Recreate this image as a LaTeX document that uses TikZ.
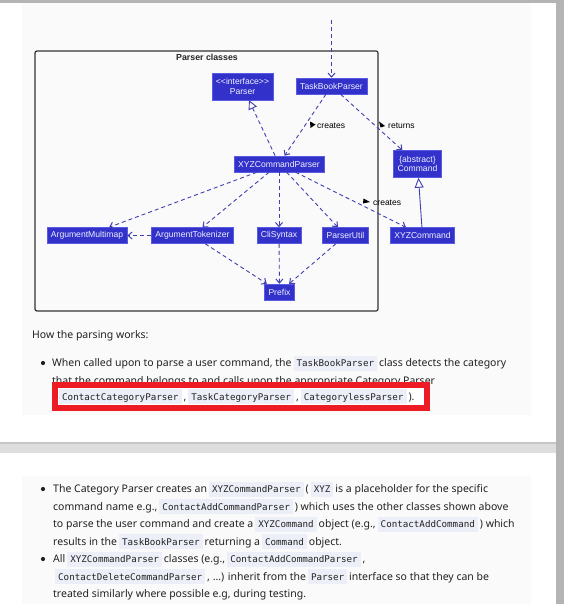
\documentclass[tikz,border=0pt]{standalone}
\usepackage{fontspec}
\usepackage{xcolor}
\definecolor{umlblue}{HTML}{3232CA}
\definecolor{umledge}{HTML}{5A5AE2}
\definecolor{umltext}{HTML}{F0F0FF}
\definecolor{arrowblue}{HTML}{4040B0}
\definecolor{pagegray}{HTML}{B4B4B4}
\definecolor{bandgray}{HTML}{DDDDDD}
\definecolor{bandedge}{HTML}{C6C6C6}
\definecolor{panelbg}{HTML}{FAFAFA}
\definecolor{codebg}{HTML}{EDEFF8}
\definecolor{markred}{HTML}{ED1C24}
\definecolor{bodytext}{HTML}{222222}
\setmainfont{Noto Sans}
\newfontfamily\umlfont{Liberation Sans}
\newfontfamily\codefont{DejaVu Sans Mono}
\usepackage{tikz}
\usetikzlibrary{arrows.meta}

% inline code chip
\newcommand{\code}[1]{\hspace{2pt}{\setlength{\fboxsep}{0pt}\colorbox{codebg}{\rule[-4pt]{0pt}{15pt}\hspace{3pt}{\codefont\fontsize{9.2}{11}\selectfont #1}\hspace{3pt}}}\hspace{2pt}}

\begin{document}
\begin{tikzpicture}[x=1pt, y=-1pt,
    umlclass/.style={fill=umlblue, draw=umledge, line width=0.5pt, text=umltext,
      font=\umlfont\fontsize{8.6}{9.5}\selectfont, inner xsep=4pt, inner ysep=2pt,
      minimum height=16pt, align=center},
    twoline/.style={minimum height=27pt},
    dep/.style={draw=arrowblue, line width=0.9pt, dash pattern=on 4pt off 3pt,
      -{Straight Barb[length=4pt,width=7pt,line width=1pt]}},
    realize/.style={draw=arrowblue, line width=0.9pt, dash pattern=on 4pt off 3pt,
      -{Triangle[open,length=9pt,width=9pt]}},
    inherit/.style={draw=arrowblue, line width=0.9pt, -{Triangle[open,length=10pt,width=9pt]}},
    umllabel/.style={font=\umlfont\fontsize{8.5}{9.5}\selectfont, anchor=west, inner sep=0pt},
    bodyline/.style={anchor=base west, inner sep=0pt, text=bodytext, font=\fontsize{10.5}{12}\selectfont},
    bulletdot/.style={circle, fill=bodytext, inner sep=0pt, minimum size=4.2pt}
]
  \useasboundingbox (0,0) rectangle (564,604);

  % page, cards and panels
  \fill[white] (0,0) rectangle (564,604);
  \fill[panelbg] (22,3) rectangle (531,415);
  \fill[panelbg] (22,476) rectangle (531,604);
  \fill[bandgray] (0,442) rectangle (556,453);
  \draw[bandedge, line width=1.5pt] (0,442.75) -- (556,442.75);
  \fill[pagegray] (0,0) rectangle (564,3);
  \fill[pagegray] (556,0) rectangle (564,604);

  % package frame
  \draw[black!80, line width=1.2pt, rounded corners=2pt] (35,51) rectangle (378,311);
  \node[font=\umlfont\bfseries\fontsize{8.8}{10}\selectfont, text=black!85] (pkgtitle) at (207,57.5) {Parser classes};

  % classes
  \node[umlclass, twoline] (parser) at (242.5,86.5) {<{}<interface>{}>\\Parser};
  \node[umlclass] (tbp) at (331.5,86) {TaskBookParser};
  \node[umlclass] (xyzp) at (279,164) {XYZCommandParser};
  \node[umlclass, twoline] (command) at (417.5,164) {\{abstract\}\\Command};
  \node[umlclass] (argmm) at (87,235.5) {ArgumentMultimap};
  \node[umlclass] (argtok) at (192.5,235.5) {ArgumentTokenizer};
  \node[umlclass] (cli) at (279,235.5) {CliSyntax};
  \node[umlclass] (putil) at (345.5,235.5) {ParserUtil};
  \node[umlclass] (xyzc) at (422.5,235.5) {XYZCommand};
  \node[umlclass] (prefix) at (279.5,292) {Prefix};

  % connectors
  \coordinate (entry) at (331.5,20);
  \draw[dep] (entry) -- (tbp);
  \draw[dep] (tbp) -- (xyzp);
  \draw[dep] (tbp) -- (command);
  \draw[realize] (xyzp) -- (parser);
  \draw[dep] (xyzp) -- (argmm);
  \draw[dep] (xyzp) -- (argtok);
  \draw[dep] (xyzp) -- (cli);
  \draw[dep] (xyzp) -- (putil);
  \draw[dep] (xyzp) -- (xyzc);
  \draw[dep] (argtok) -- (argmm);
  \draw[dep] (argtok) -- (prefix);
  \draw[dep] (cli) -- (prefix);
  \draw[dep] (putil) -- (prefix);
  \draw[inherit] (xyzc) -- (command);

  % connector labels
  \fill[black] (310,121.5) -- (315.5,124.5) -- (310.5,128) -- cycle;
  \node[umllabel] (lblcreatesA) at (317,125.5) {creates};
  \fill[black] (379,121.5) -- (385,126) -- (380.5,127.5) -- cycle;
  \node[umllabel] (lblreturns) at (388,125.5) {returns};
  \fill[black] (363.5,198.5) -- (370,202) -- (363,203.5) -- cycle;
  \node[umllabel] (lblcreatesB) at (373,203) {creates};

  % first card text
  \node[bodyline] (howto) at (32,338.5) {How the parsing works:};
  \node[bulletdot] (bulletA) at (43,363) {};
  \node[bodyline] (lineAa) at (52,366.5) {When called upon to parse a user command, the\code{TaskBookParser}class detects the category};
  \node[bodyline] (lineAb) at (52,384) {that the command belongs to and calls upon the appropriate Category Parser};
  \fill[markred] (52,382) rectangle (430,411);
  \fill[white] (58,388) rectangle (424,405);
  \node[bodyline] (lineAc) at (57,400) {\code{ContactCategoryParser},\code{TaskCategoryParser},\code{CategorylessParser}).};

  % second card text
  \node[bulletdot] (bulletB) at (43,489) {};
  \node[bodyline] (lineBa) at (53,492.5) {The Category Parser creates an\code{XYZCommandParser}(\code{XYZ}is a placeholder for the specific};
  \node[bodyline] (lineBb) at (53,510) {command name e.g.,\code{ContactAddCommandParser}) which uses the other classes shown above};
  \node[bodyline] (lineBc) at (53,527.5) {to parse the user command and create a\code{XYZCommand}object (e.g.,\code{ContactAddCommand}) which};
  \node[bodyline] (lineBd) at (53,545) {results in the\code{TaskBookParser}returning a\code{Command}object.};
  \node[bulletdot] (bulletC) at (43,559) {};
  \node[bodyline] (lineCa) at (53,562.5) {All\code{XYZCommandParser}classes (e.g.,\code{ContactAddCommandParser},};
  \node[bodyline] (lineCb) at (53,580) {\code{ContactDeleteCommandParser}, ...) inherit from the\code{Parser}interface so that they can be};
  \node[bodyline] (lineCc) at (53,597.5) {treated similarly where possible e.g, during testing.};

\end{tikzpicture}
\end{document}
